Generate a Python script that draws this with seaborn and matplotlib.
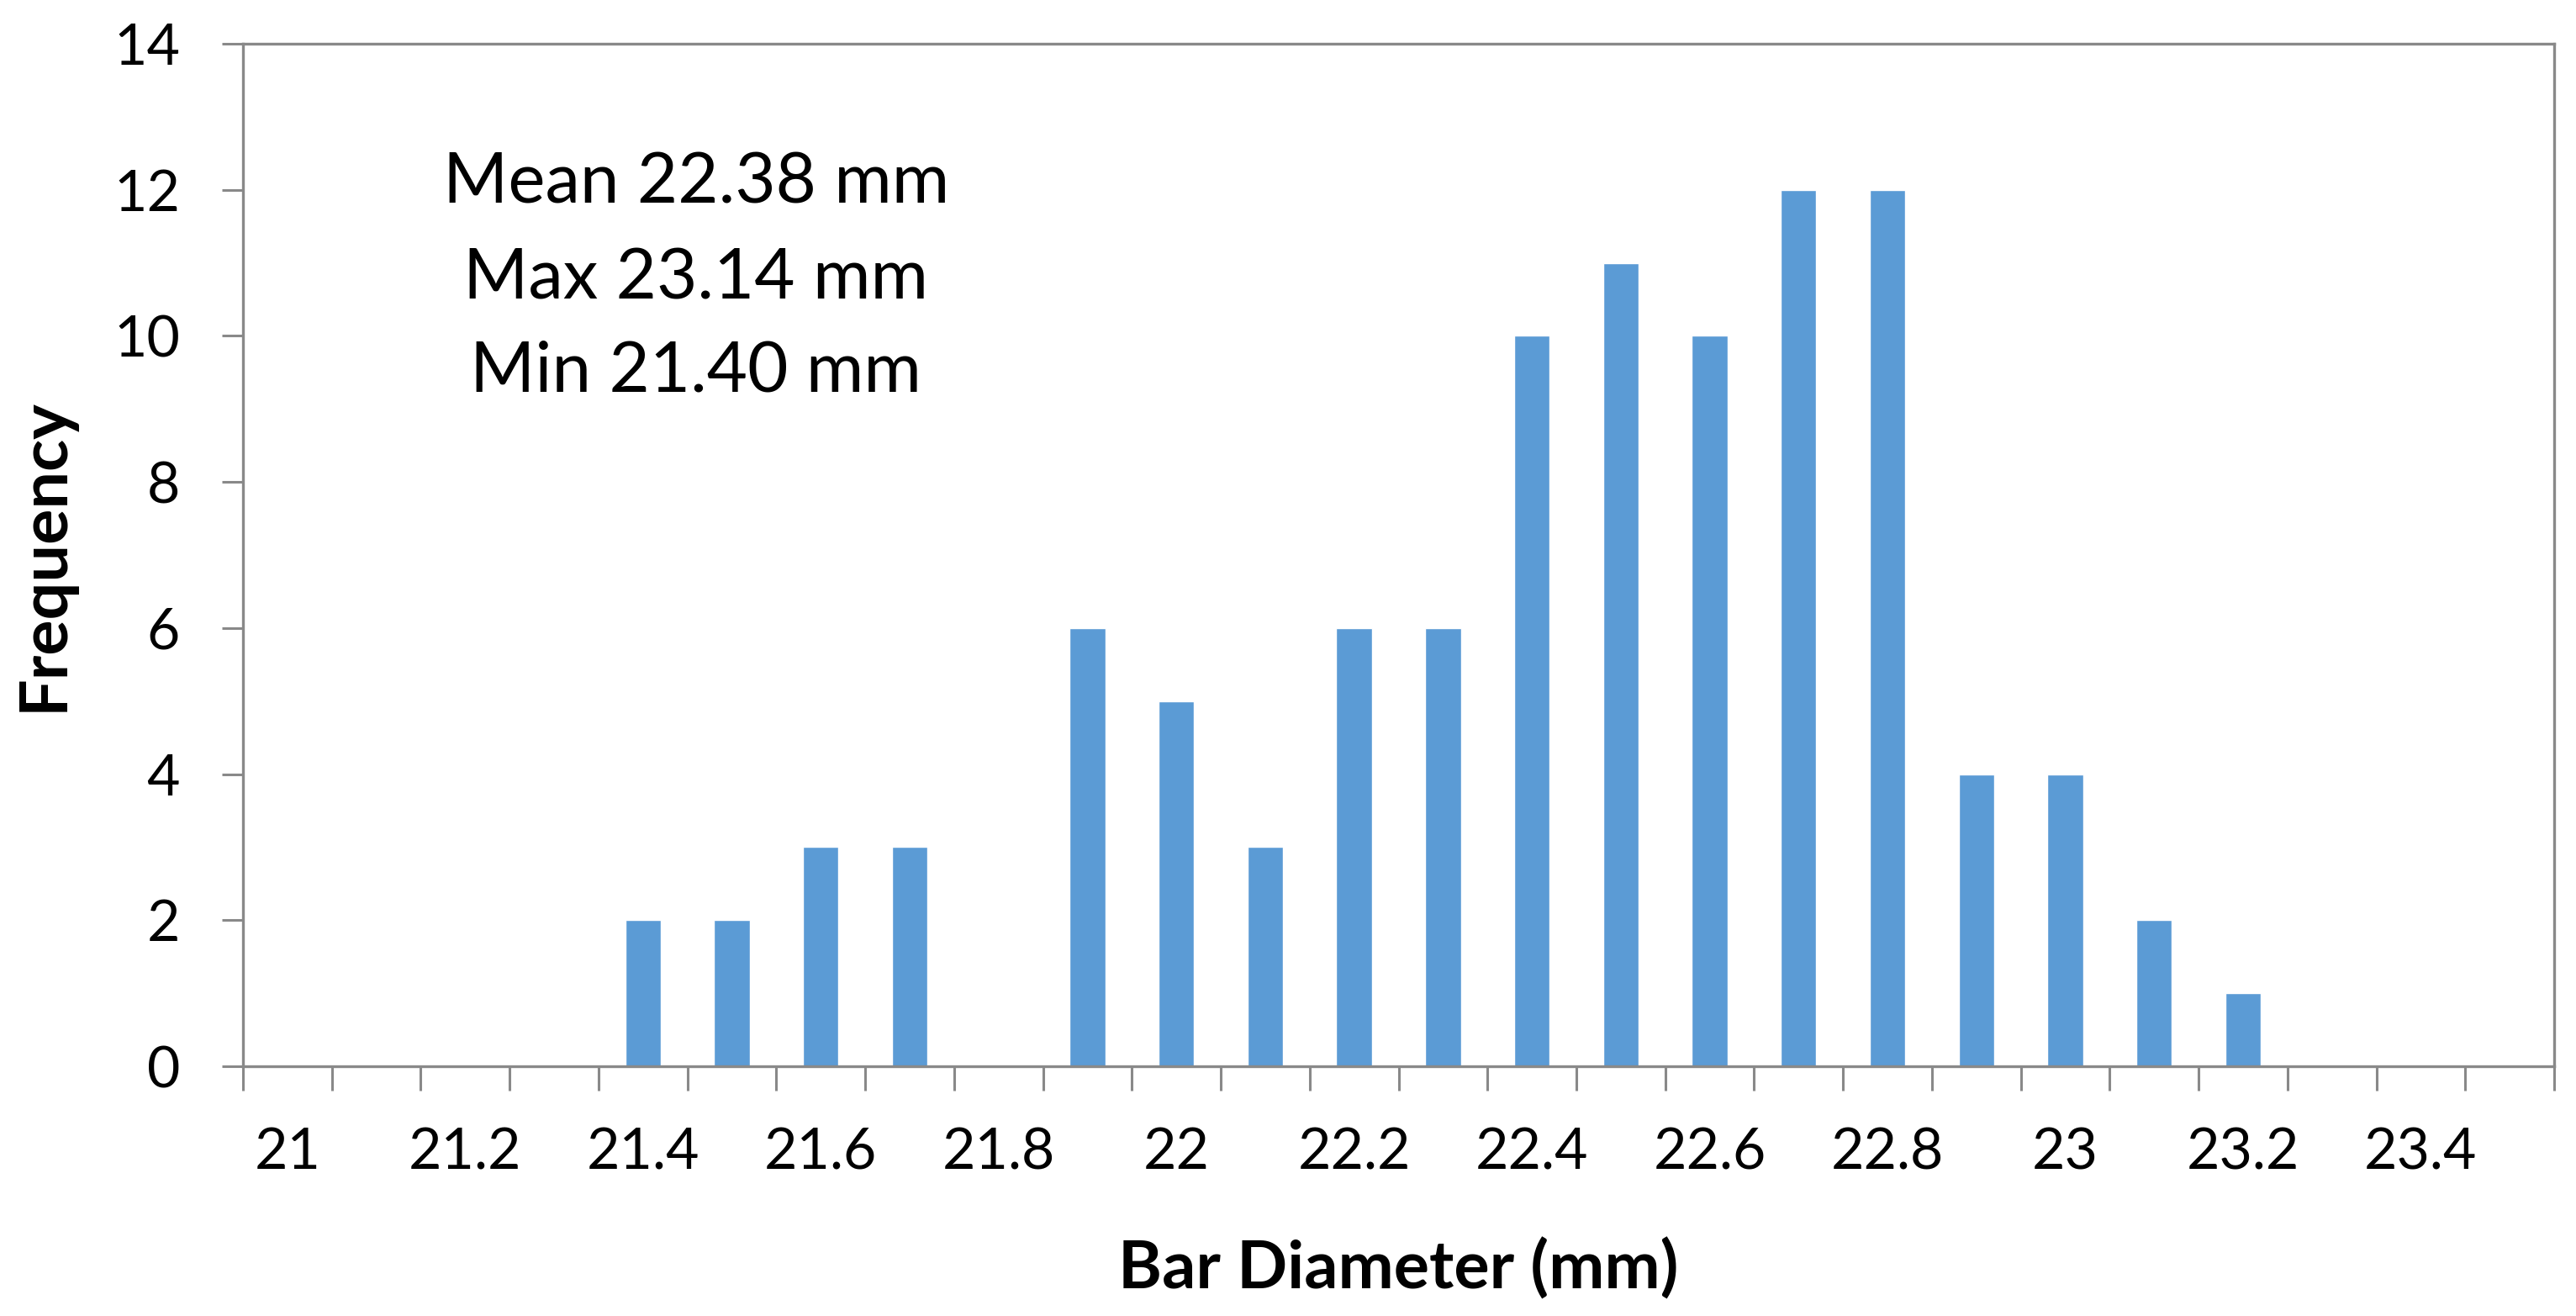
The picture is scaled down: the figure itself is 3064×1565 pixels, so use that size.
import matplotlib
matplotlib.use("Agg")
import matplotlib.pyplot as plt
import seaborn as sns
import pandas as pd

# Data
diameters = [21.0, 21.1, 21.2, 21.3, 21.4, 21.5, 21.6, 21.7, 21.8, 21.9,
             22.0, 22.1, 22.2, 22.3, 22.4, 22.5, 22.6, 22.7, 22.8, 22.9,
             23.0, 23.1, 23.2, 23.3, 23.4, 23.5]
frequency = [0, 0, 0, 0, 2, 2, 3, 3, 0, 6,
             5, 3, 6, 6, 10, 11, 10, 12, 12, 4,
             4, 2, 1, 0, 0, 0]
y_ticks = [0, 2, 4, 6, 8, 10, 12, 14]
stats_lines = ["Mean 22.38 mm", "Max 23.14 mm", "Min 21.40 mm"]

sns.set_theme(style="white")
plt.rcParams['font.family'] = ['Lato', 'DejaVu Sans']

cats = [f"{d:g}" for d in diameters]
df = pd.DataFrame({"Diameter": cats, "Frequency": frequency})

fig = plt.figure(figsize=(30.64, 15.65), dpi=100)
ax = fig.add_axes([289/3064, 1 - 1268/1565, (3038-289)/3064, (1268-52)/1565])

sns.barplot(data=df, x="Diameter", y="Frequency", order=cats, color="#5B9BD5",
            width=0.4, saturation=1, ax=ax)

ax.set_xlim(-0.5, len(cats) - 0.5)
ax.set_ylim(0, 14)

axis_gray = "#898989"
for sp in ax.spines.values():
    sp.set_color(axis_gray)
    sp.set_linewidth(2.4)
    sp.set_visible(True)

# x ticks: labels every other category, tick marks at category boundaries
ax.set_xticks(range(0, len(cats), 2))
ax.set_xticklabels(cats[::2])
ax.set_xticks([i - 0.5 for i in range(len(cats) + 1)], minor=True)
ax.tick_params(axis="x", which="major", length=0, pad=52, labelsize=49, colors="black")
ax.tick_params(axis="x", which="minor", length=21, width=2.2, color=axis_gray, direction="out", bottom=True)

ax.set_yticks(y_ticks)
ax.set_yticklabels([str(v) for v in y_ticks])
ax.tick_params(axis="y", which="major", length=18, width=2.2, color=axis_gray, direction="out",
               pad=36, labelsize=49, left=True, labelcolor="black")

ax.set_xlabel("Bar Diameter (mm)", fontsize=57, fontweight="bold", color="black")
ax.set_ylabel("Frequency", fontsize=57, fontweight="bold", color="black")
ax.xaxis.set_label_coords(0.5, -0.168)
ax.yaxis.set_label_coords(-0.073, 0.5)

for i, (line, ypix) in enumerate(zip(stats_lines, [219, 332, 442])):
    ax.text(0.196, (1268 - ypix) / (1268 - 52), line, transform=ax.transAxes,
            ha="center", va="center", fontsize=60, color="black")

ax.grid(False)
fig.savefig("out.png", dpi=100, facecolor="white")
